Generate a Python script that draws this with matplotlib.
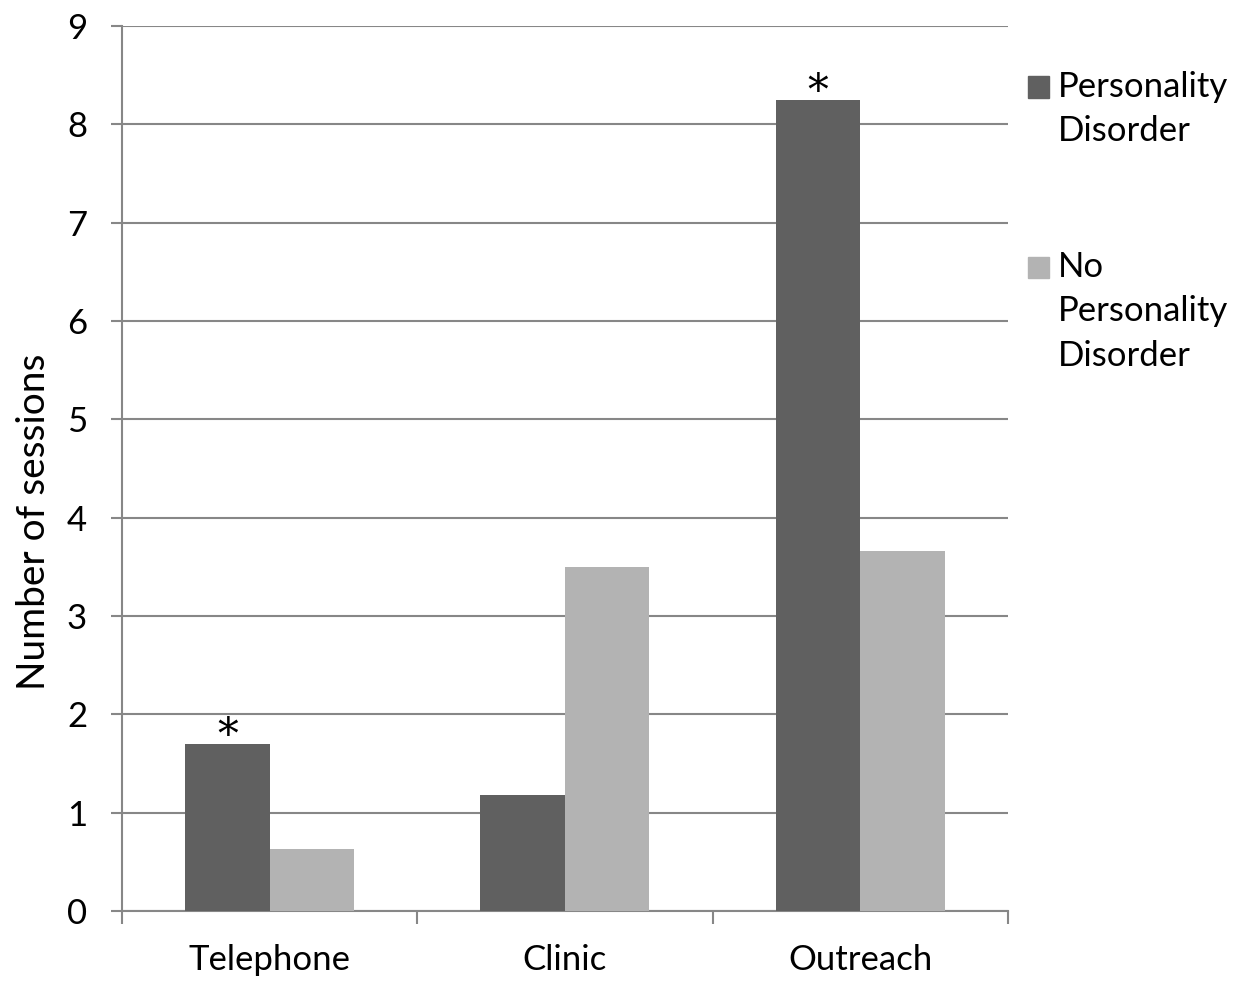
import matplotlib
matplotlib.use("Agg")
import matplotlib.pyplot as plt
from matplotlib.patches import Rectangle
import numpy as np

plt.rcParams["font.family"] = ["Lato", "DejaVu Sans"]

categories = ["Telephone", "Clinic", "Outreach"]
pd_sessions = [1.70, 1.18, 8.25]
no_pd_sessions = [0.63, 3.50, 3.66]
significant = [True, False, True]
series_labels = ["Personality\nDisorder", "No\nPersonality\nDisorder"]
series_colors = ["#606060", "#b3b3b3"]

x = np.arange(len(categories))
width = 0.286

fig = plt.figure(figsize=(12.38, 9.81), dpi=100)
ax = fig.add_axes([0.0985, 0.0714, 0.7157, 0.9021])

ax.bar(x - width / 2, pd_sessions, width, color=series_colors[0], zorder=3)
ax.bar(x + width / 2, no_pd_sessions, width, color=series_colors[1], zorder=3)

for i, flag in enumerate(significant):
    if flag:
        ax.text(x[i] - width / 2, pd_sessions[i] - 0.04, "*", ha="center", va="baseline",
                fontsize=30, family="DejaVu Serif", color="black")

ax.set_xlim(-0.5, len(categories) - 0.5)
ax.set_ylim(0, 9)
ax.set_yticks(range(0, 10))
ax.yaxis.grid(True, color="#878787", linewidth=1.5, zorder=0)
ax.set_axisbelow(True)

ax.set_xticks(x)
ax.set_xticklabels(categories)
ax.set_xticks(np.arange(-0.5, len(categories)), minor=True)
ax.tick_params(axis="x", which="major", length=0, pad=24, labelsize=25)
ax.tick_params(axis="x", which="minor", length=9, width=1.5, color="#878787")
ax.tick_params(axis="y", length=8, width=1.5, color="#878787", labelsize=25, pad=17)

for side in ["top", "right"]:
    ax.spines[side].set_visible(False)
for side in ["left", "bottom"]:
    ax.spines[side].set_color("#878787")
    ax.spines[side].set_linewidth(1.5)

ax.set_ylabel("Number of sessions", fontsize=28)
ax.yaxis.set_label_coords(-0.079, 0.44)

# legend drawn by hand: square beside first line of each label
legend_top = [87, 267]
for lbl, col, ytop in zip(series_labels, series_colors, legend_top):
    yf = 1 - ytop / 981
    fig.patches.append(Rectangle((1028 / 1238, yf - 10.5 / 981), 21 / 1238, 21 / 981,
                                 transform=fig.transFigure, color=col))
    fig.text(1058 / 1238, yf + 16 / 981, lbl, fontsize=25, va="top", ha="left",
             linespacing=1.48)

fig.savefig("out.png", dpi=100)
